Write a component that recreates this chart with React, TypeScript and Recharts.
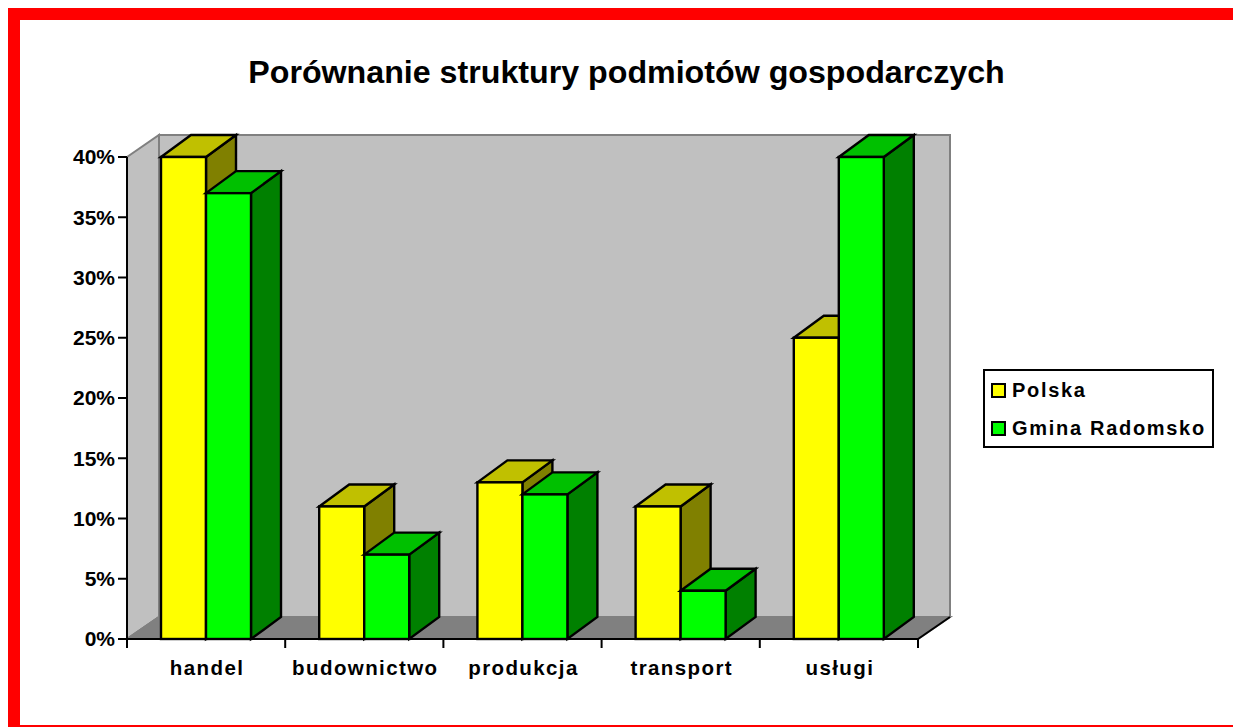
import React from 'react';
import { BarChart, Bar, XAxis, YAxis, Legend, ReferenceArea } from 'recharts';

const categories = ['handel', 'budownictwo', 'produkcja', 'transport', 'usługi'];
const polska = [40, 11, 13, 11, 25];
const gmina = [37, 7, 12, 4, 40];
const yTicks = [0, 5, 10, 15, 20, 25, 30, 35, 40];
const seriesNames = ['Polska', 'Gmina Radomsko'];
const title = 'Porównanie struktury podmiotów gospodarczych';

const table = categories.map((c, i) => ({ c, polska: polska[i], gmina: gmina[i] }));

const DX = 30;
const DY = 22;
const WALL_DX = 32;
const FONT = '"Liberation Sans", Arial, sans-serif';

function makeBar(top: string, side: string) {
  return function Bar3D(props: any) {
    const { x, y, width: w, height: h, fill } = props;
    return (
      <g stroke="#000" strokeWidth={2.4} strokeLinejoin="miter">
        <polygon points={`${x + w},${y} ${x + w + DX},${y - DY} ${x + w + DX},${y + h - DY} ${x + w},${y + h}`} fill={side} />
        <polygon points={`${x},${y} ${x + DX},${y - DY} ${x + w + DX},${y - DY} ${x + w},${y}`} fill={top} />
        <rect x={x} y={y} width={w} height={h} fill={fill} />
      </g>
    );
  };
}

function Walls(props: any) {
  const { x, y, width: w, height: h } = props;
  const b = y + h;
  return (
    <g>
      <polygon points={`${x},${y} ${x + WALL_DX},${y - DY} ${x + WALL_DX},${b - DY} ${x},${b}`} fill="#c0c0c0" stroke="#808080" strokeWidth={2} />
      <rect x={x + WALL_DX} y={y - DY} width={w} height={h} fill="#c0c0c0" stroke="#808080" strokeWidth={2} />
      <polygon points={`${x},${b} ${x + WALL_DX},${b - DY} ${x + w + WALL_DX},${b - DY} ${x + w},${b}`} fill="#808080" stroke="#808080" strokeWidth={2} />
      <line x1={x + w} y1={b} x2={x + w + WALL_DX} y2={b - DY} stroke="#000" strokeWidth={2} />
      <line x1={x} y1={b} x2={x + WALL_DX} y2={b - DY} stroke="#808080" strokeWidth={2} />
    </g>
  );
}

function CategoryTick(props: any) {
  const { x, payload, index } = props;
  const half = 791 / categories.length / 2;
  const base = 639 - 20;
  return (
    <g>
      <line x1={x - half} y1={base} x2={x - half} y2={base + 9} stroke="#000" strokeWidth={2} />
      {index === categories.length - 1 && (
        <line x1={x + half} y1={base} x2={x + half} y2={base + 9} stroke="#000" strokeWidth={2} />
      )}
      <text x={x + 1} y={base + 36} textAnchor="middle" fontFamily={FONT} fontWeight="bold" fontSize={20.5} letterSpacing={1.4} fill="#000">
        {payload.value}
      </text>
    </g>
  );
}

function LegendBox(props: any) {
  const items = props.payload || [];
  return (
    <div style={{ boxSizing: 'border-box', width: 231, height: 79, border: '2px solid #000', background: '#fff', position: 'relative', fontFamily: FONT, fontWeight: 'bold', fontSize: 20, letterSpacing: 1.7, color: '#000' }}>
      {items.map((it: any, i: number) => (
        <div key={it.value} style={{ position: 'absolute', left: 6, top: 7 + i * 38, height: 24, display: 'flex', alignItems: 'center', whiteSpace: 'nowrap' }}>
          <span style={{ boxSizing: 'border-box', display: 'inline-block', width: 15, height: 15, background: it.color, border: '2px solid #000', marginRight: 6 }} />
          {it.value}
        </div>
      ))}
    </div>
  );
}

export default function App() {
  return (
    <div style={{ boxSizing: 'border-box', width: 1225, height: 719, borderTop: '12px solid #f00', borderLeft: '12px solid #f00', borderBottom: '2px solid #f00', background: '#fff', position: 'fixed', left: 8, top: 8, overflow: 'hidden' }}>
      <div style={{ position: 'absolute', left: 0, top: 32, width: 1213, textAlign: 'center', fontFamily: FONT, fontWeight: 'bold', fontSize: 32.2, lineHeight: '40px', color: '#000' }}>
        {title}
      </div>
      <BarChart width={1213} height={705} data={table} margin={{ top: 137, right: 84, bottom: 46, left: 47 }} barSize={45} barGap={0} style={{ overflow: 'visible' }}>
        <ReferenceArea y1={0} y2={40} shape={Walls} ifOverflow="visible" />
        <XAxis dataKey="c" height={40} interval={0} tick={CategoryTick} tickLine={false} axisLine={{ stroke: '#000', strokeWidth: 2 }} />
        <YAxis width={60} domain={[0, 40]} ticks={yTicks} interval={0} tickFormatter={(v: number) => `${v}%`} tickSize={9} tickMargin={3} tickLine={{ stroke: '#000', strokeWidth: 2 }} axisLine={{ stroke: '#000', strokeWidth: 2 }} tick={{ fill: '#000', fontFamily: FONT, fontWeight: 'bold', fontSize: 21 }} />
        <Bar dataKey="polska" name={seriesNames[0]} fill="#ffff00" shape={makeBar('#c0c000', '#808000')} isAnimationActive={false} />
        <Bar dataKey="gmina" name={seriesNames[1]} fill="#00ff00" shape={makeBar('#00c000', '#008000')} isAnimationActive={false} />
        <Legend content={LegendBox} layout="vertical" align="right" verticalAlign="middle" itemSorter={null} wrapperStyle={{ position: 'absolute', left: 963, top: 349, width: 231, bottom: 'auto', right: 'auto' }} />
      </BarChart>
    </div>
  );
}
